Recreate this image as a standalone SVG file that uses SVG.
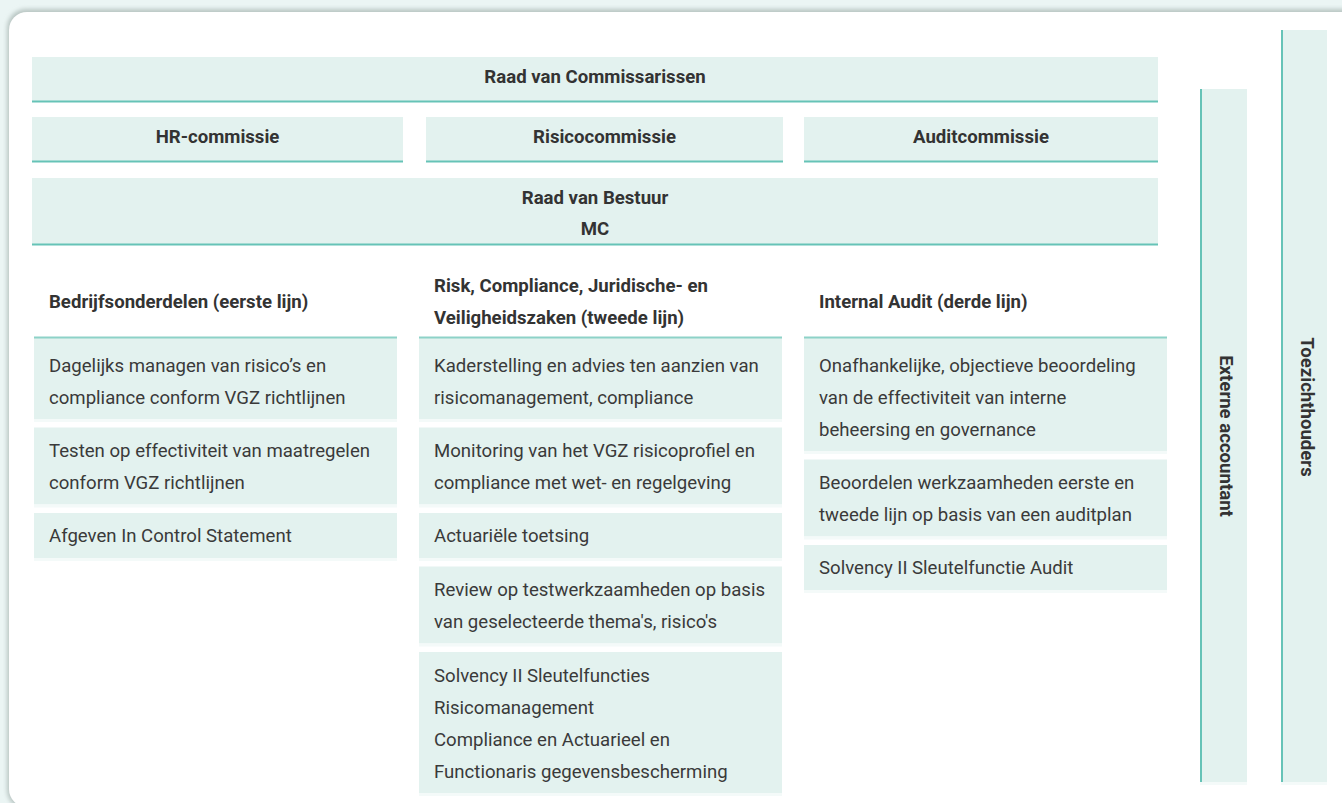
<svg xmlns="http://www.w3.org/2000/svg" width="1342" height="803" viewBox="0 0 1342 803">
<defs>
<style>
.bg{fill:#ebf5f4}
.card{fill:#ffffff}
.fill{fill:#e3f2ef}
.line{fill:#66c3b7}
.lite{fill:#8dd2c8}
.strip{fill:#f4faf9}
.h{font-family:Roboto,"Liberation Sans",sans-serif;font-weight:700;font-size:18.6px;fill:#333333}
.t{font-family:Roboto,"Liberation Sans",sans-serif;font-weight:400;font-size:18.6px;fill:#3a3a3a}
.c{text-anchor:middle}
</style>
<filter id="sh" x="-5%" y="-5%" width="110%" height="110%">
<feGaussianBlur stdDeviation="2"/>
</filter>
</defs>
<rect class="bg" x="0" y="0" width="1342" height="803"/>
<rect x="7" y="9" width="1400" height="800" rx="19" fill="#b9c6c3" filter="url(#sh)"/>
<rect class="card" x="9" y="12" width="1400" height="795" rx="18"/>

<g id="raad-van-commissarissen">
<rect class="fill" x="32" y="57" width="1126" height="45"/>
<rect class="line" x="32" y="100.5" width="1126" height="2"/>
<text class="h c" x="595" y="83">Raad van Commissarissen</text>
</g>
<g id="hr-commissie">
<rect class="fill" x="32" y="117" width="371" height="45"/>
<rect class="line" x="32" y="160.5" width="371" height="2"/>
<text class="h c" x="217.5" y="143">HR-commissie</text>
</g>
<g id="risicocommissie">
<rect class="fill" x="426" y="117" width="357" height="45"/>
<rect class="line" x="426" y="160.5" width="357" height="2"/>
<text class="h c" x="604.5" y="143">Risicocommissie</text>
</g>
<g id="auditcommissie">
<rect class="fill" x="804" y="117" width="354" height="45"/>
<rect class="line" x="804" y="160.5" width="354" height="2"/>
<text class="h c" x="981" y="143">Auditcommissie</text>
</g>
<g id="raad-van-bestuur">
<rect class="fill" x="32" y="178" width="1126" height="67"/>
<rect class="line" x="32" y="243.5" width="1126" height="2"/>
<text class="h c" x="595" y="203.5">Raad van Bestuur</text>
<text class="h c" x="595" y="235">MC</text>
</g>

<g id="eerste-lijn">
<text class="h" x="49" y="307.5">Bedrijfsonderdelen (eerste lijn)</text>
<rect class="fill" x="34" y="337" width="363" height="82"/>
<rect class="lite" x="34" y="336.5" width="363" height="2"/>
<rect class="strip" x="34" y="419" width="363" height="3"/>
<text class="t" x="49" y="371.5">Dagelijks managen van risico’s en</text>
<text class="t" x="49" y="403.5">compliance conform VGZ richtlijnen</text>
<rect class="fill" x="34" y="427.5" width="363" height="77"/>
<rect class="strip" x="34" y="504.5" width="363" height="3"/>
<text class="t" x="49" y="456.5">Testen op effectiviteit van maatregelen</text>
<text class="t" x="49" y="488.5">conform VGZ richtlijnen</text>
<rect class="fill" x="34" y="513" width="363" height="45"/>
<rect class="strip" x="34" y="558" width="363" height="3"/>
<text class="t" x="49" y="542">Afgeven In Control Statement</text>
</g>

<g id="tweede-lijn">
<text class="h" x="434" y="291.5">Risk, Compliance, Juridische- en</text>
<text class="h" x="434" y="323.5">Veiligheidszaken (tweede lijn)</text>
<rect class="fill" x="419" y="337" width="363" height="82"/>
<rect class="lite" x="419" y="336.5" width="363" height="2"/>
<rect class="strip" x="419" y="419" width="363" height="3"/>
<text class="t" x="434" y="371.5">Kaderstelling en advies ten aanzien van</text>
<text class="t" x="434" y="403.5">risicomanagement, compliance</text>
<rect class="fill" x="419" y="427.5" width="363" height="77"/>
<rect class="strip" x="419" y="504.5" width="363" height="3"/>
<text class="t" x="434" y="456.5">Monitoring van het VGZ risicoprofiel en</text>
<text class="t" x="434" y="488.5">compliance met wet- en regelgeving</text>
<rect class="fill" x="419" y="513" width="363" height="45"/>
<rect class="strip" x="419" y="558" width="363" height="3"/>
<text class="t" x="434" y="542">Actuariële toetsing</text>
<rect class="fill" x="419" y="566.5" width="363" height="77"/>
<rect class="strip" x="419" y="643.5" width="363" height="3"/>
<text class="t" x="434" y="595.5">Review op testwerkzaamheden op basis</text>
<text class="t" x="434" y="627.5">van geselecteerde thema's, risico's</text>
<rect class="fill" x="419" y="652" width="363" height="141"/>
<rect class="strip" x="419" y="793" width="363" height="3"/>
<text class="t" x="434" y="681.5">Solvency II Sleutelfuncties</text>
<text class="t" x="434" y="713.5">Risicomanagement</text>
<text class="t" x="434" y="745.5">Compliance en Actuarieel en</text>
<text class="t" x="434" y="777.5">Functionaris gegevensbescherming</text>
</g>

<g id="derde-lijn">
<text class="h" x="819" y="307.5">Internal Audit (derde lijn)</text>
<rect class="fill" x="804" y="337" width="363" height="114"/>
<rect class="lite" x="804" y="336.5" width="363" height="2"/>
<rect class="strip" x="804" y="451" width="363" height="3"/>
<text class="t" x="819" y="371.5">Onafhankelijke, objectieve beoordeling</text>
<text class="t" x="819" y="403.5">van de effectiviteit van interne</text>
<text class="t" x="819" y="435.5">beheersing en governance</text>
<rect class="fill" x="804" y="459.5" width="363" height="77"/>
<rect class="strip" x="804" y="536.5" width="363" height="3"/>
<text class="t" x="819" y="488.5">Beoordelen werkzaamheden eerste en</text>
<text class="t" x="819" y="520.5">tweede lijn op basis van een auditplan</text>
<rect class="fill" x="804" y="545" width="363" height="45"/>
<rect class="strip" x="804" y="590" width="363" height="3"/>
<text class="t" x="819" y="574">Solvency II Sleutelfunctie Audit</text>
</g>

<g id="externe-accountant">
<rect class="fill" x="1200" y="89" width="47" height="693"/>
<rect class="line" x="1200" y="89" width="2" height="693"/>
<rect class="strip" x="1200" y="782" width="47" height="3"/>
<text class="h c" transform="translate(1220 436) rotate(90)" x="0" y="0">Externe accountant</text>
</g>
<g id="toezichthouders">
<rect class="fill" x="1281" y="30" width="46" height="752"/>
<rect class="line" x="1281" y="30" width="2" height="752"/>
<rect class="strip" x="1281" y="782" width="46" height="3"/>
<text class="h c" transform="translate(1301 407) rotate(90)" x="0" y="0">Toezichthouders</text>
</g>

<g id="connectors"></g>
</svg>
